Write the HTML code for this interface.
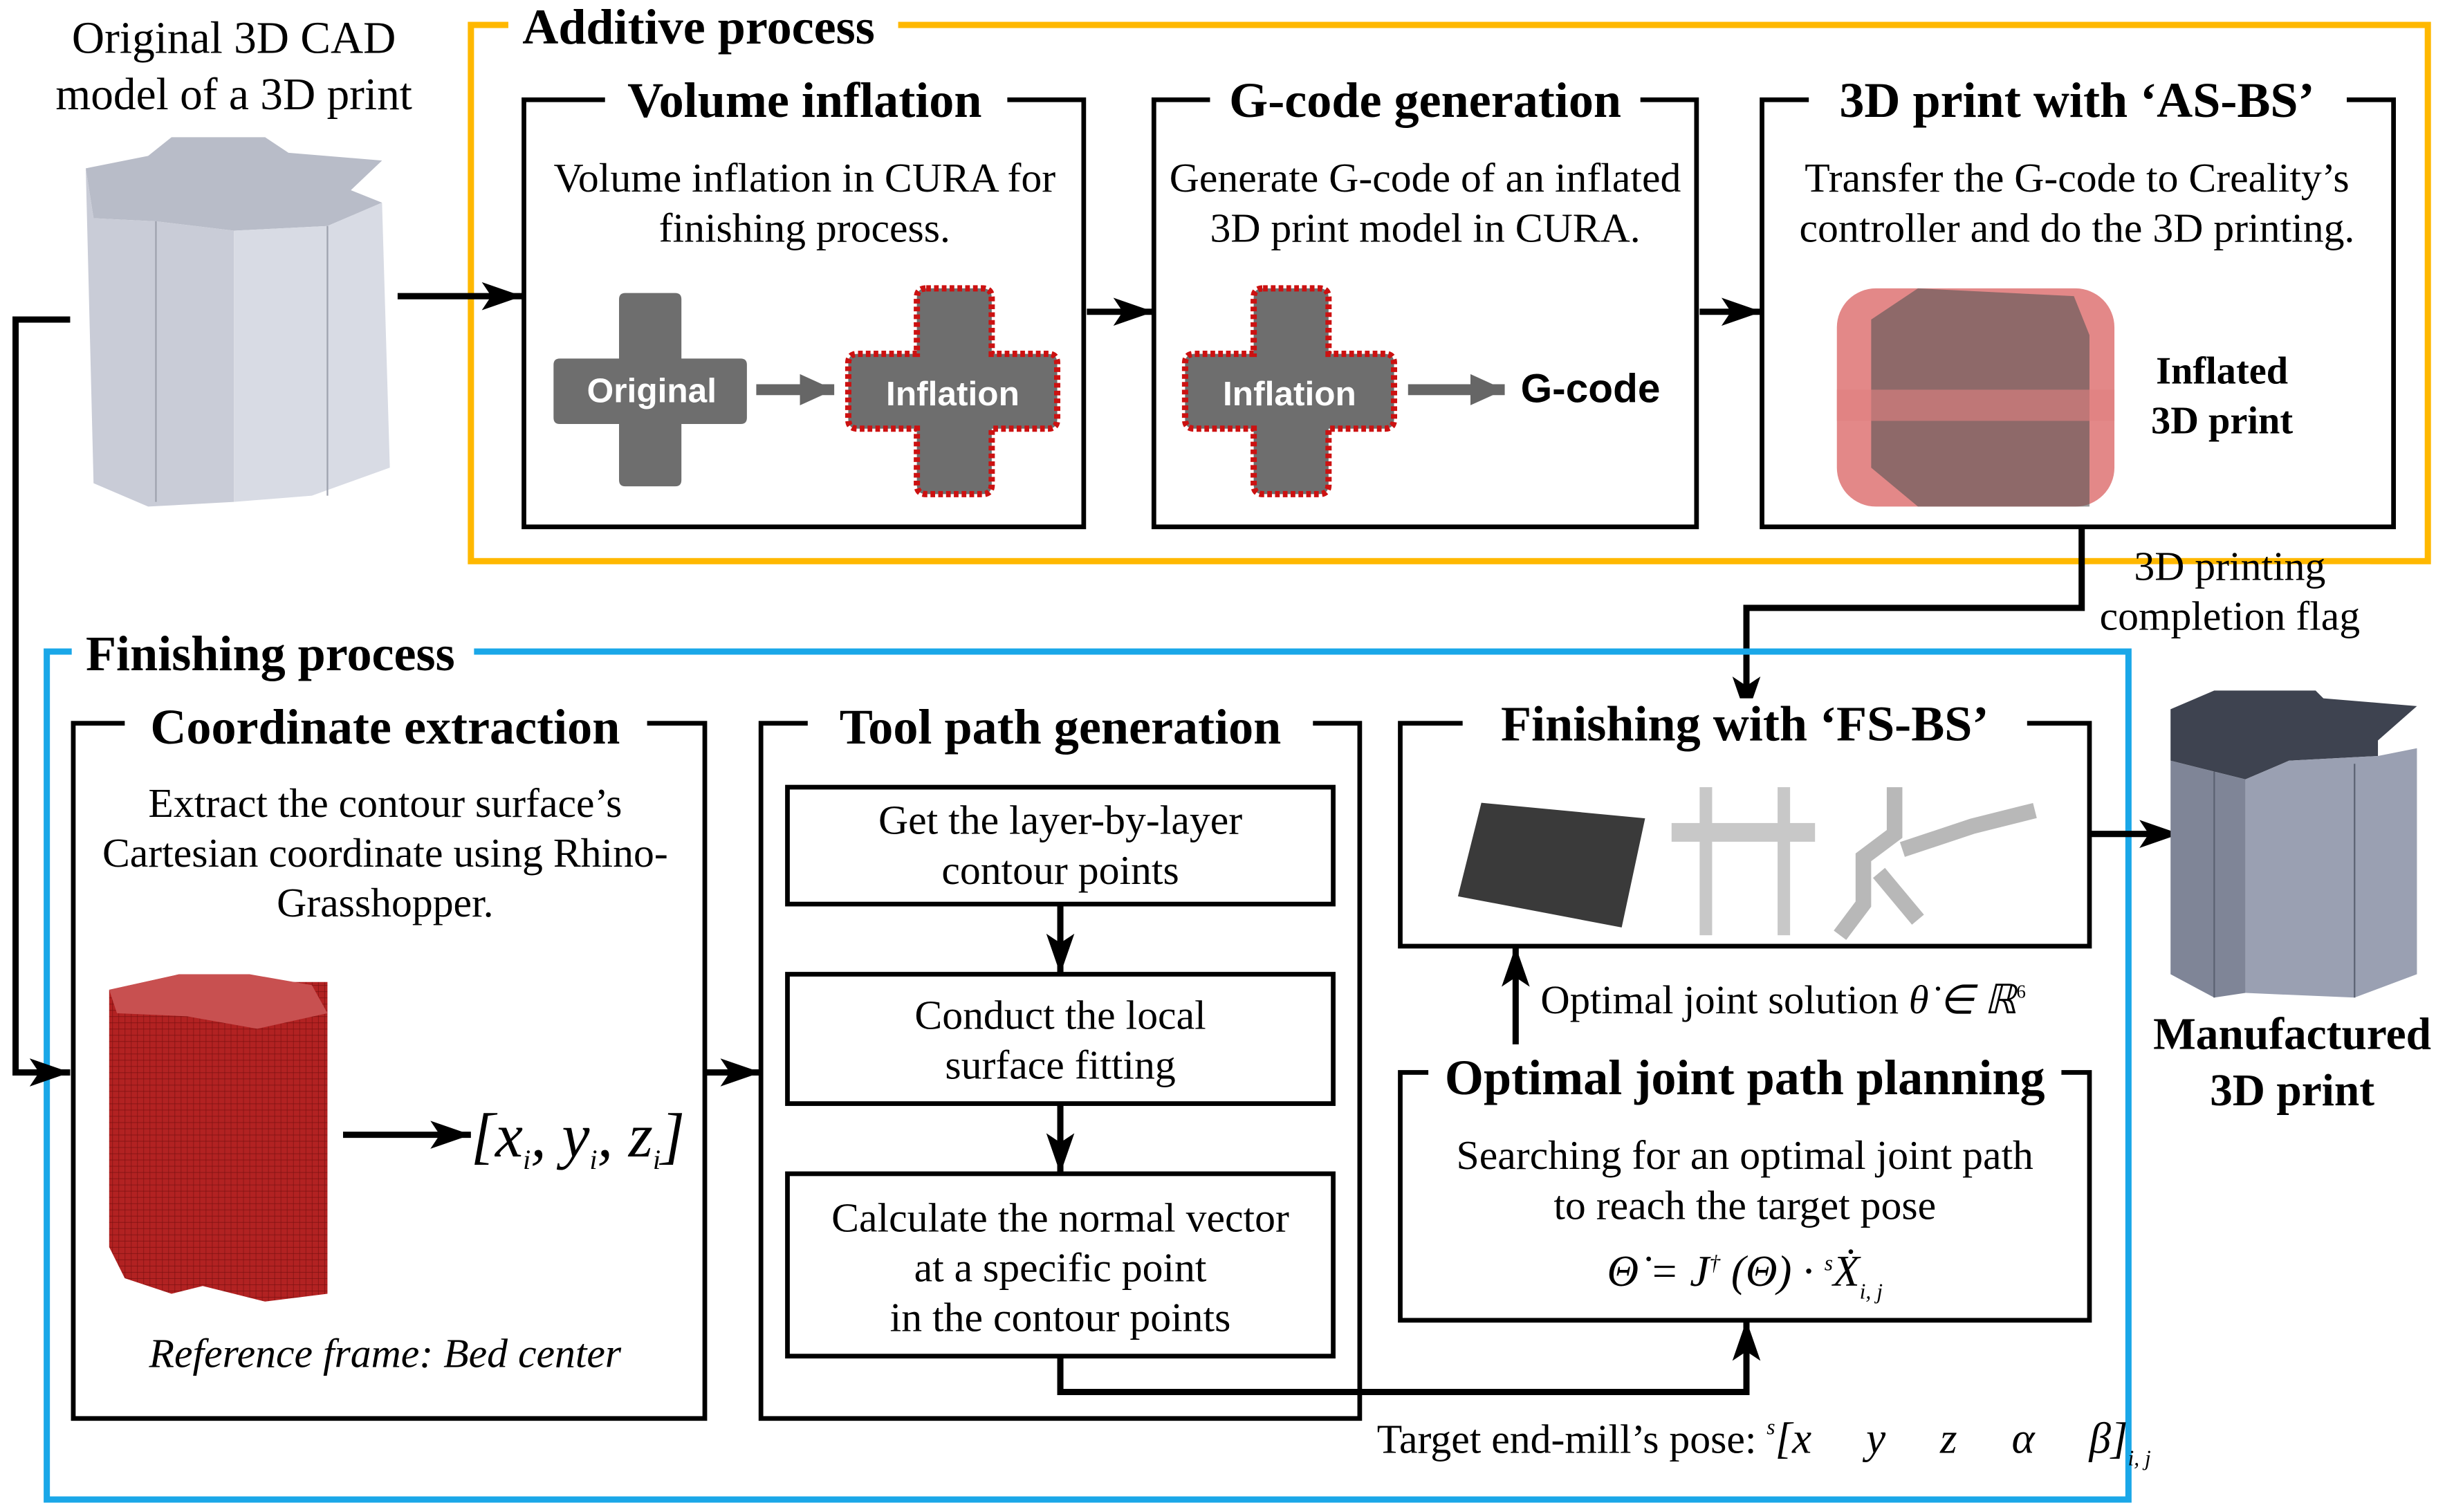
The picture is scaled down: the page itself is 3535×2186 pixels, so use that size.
<!DOCTYPE html>
<html><head><meta charset="utf-8"><style>
html,body{margin:0;padding:0;background:#fff;}
svg{display:block;}
text{font-family:"Liberation Serif",serif;fill:#000;}
.t{font-weight:bold;font-size:32px;text-anchor:middle;}
.b{font-size:26.5px;text-anchor:middle;}
.bx{fill:#fff;stroke:#000;stroke-width:3;}
.ln{fill:none;stroke:#000;stroke-width:4;}
.g{font-family:"Liberation Sans",sans-serif;font-weight:bold;fill:#fff;font-size:22px;text-anchor:middle;}
</style></head><body>
<svg width="3535" height="2186" viewBox="0 0 1568 970" preserveAspectRatio="none" xmlns="http://www.w3.org/2000/svg">
<defs>
<marker id="A" markerWidth="26" markerHeight="18" refX="26" refY="9" orient="auto" markerUnits="userSpaceOnUse"><path d="M0,0 L26,9 L0,18 L6,9z" fill="#000"/></marker>
<marker id="G" markerWidth="22" markerHeight="20" refX="22" refY="10" orient="auto" markerUnits="userSpaceOnUse"><path d="M0,0 L22,10 L0,20z" fill="#666"/></marker>
<pattern id="mesh" width="4" height="4" patternUnits="userSpaceOnUse"><rect width="4" height="4" fill="#b22222"/><path d="M0,0H4M0,0V4" stroke="#7a1010" stroke-width="0.6"/></pattern>
</defs>

<!-- CAD model -->
<text x="150" y="34" style="font-size:29px;text-anchor:middle">Original 3D CAD</text>
<text x="150" y="70" style="font-size:29px;text-anchor:middle">model of a 3D print</text>
<polygon points="55,108 95,100 110,88 170,88 185,98 245,103 225,122 245,130 210,145 150,148 100,142 60,140" fill="#b8bcc8"/>
<polygon points="55,108 60,140 100,142 150,148 150,322 95,325 60,310" fill="#c9ccd7"/>
<polygon points="150,148 210,145 245,130 250,300 200,318 150,322" fill="#d8dbe4"/>
<path d="M100,142V322M210,145V318" stroke="#9ea2ae" stroke-width="1"/>

<!-- Additive process -->
<rect x="302" y="16" width="1255" height="344" fill="none" stroke="#FFB800" stroke-width="4"/>
<rect x="326" y="0" width="250" height="30" fill="#fff"/>
<text x="335" y="28" style="font-weight:bold;font-size:32px">Additive process</text>
<line x1="255" y1="190" x2="335" y2="190" class="ln" marker-end="url(#A)"/>

<rect x="336" y="64" width="359" height="274" class="bx"/>
<rect x="388" y="48" width="258" height="30" fill="#fff"/>
<text x="516" y="75" class="t">Volume inflation</text>
<text x="516" y="123" class="b">Volume inflation in CURA for</text>
<text x="516" y="155" class="b">finishing process.</text>
<path d="M401,188h32q4,0 4,4v38h38q4,0 4,4v34q0,4 -4,4h-38v36q0,4 -4,4h-32q-4,0 -4,-4v-36h-38q-4,0 -4,-4v-34q0,-4 4,-4h38v-38q0,-4 4,-4z" fill="#6e6e6e"/>
<text x="418" y="258" class="g">Original</text>
<line x1="485" y1="250" x2="535" y2="250" stroke="#666" stroke-width="7" marker-end="url(#G)"/>
<path d="M594,185h36q6,0 6,6v36h36q6,0 6,6v36q0,6 -6,6h-36v36q0,6 -6,6h-36q-6,0 -6,-6v-36h-38q-6,0 -6,-6v-36q0,-6 6,-6h38v-36q0,-6 6,-6z" fill="#6e6e6e" stroke="#cc1111" stroke-width="4" stroke-dasharray="3,2"/>
<text x="611" y="260" class="g">Inflation</text>

<line x1="697" y1="200" x2="740" y2="200" class="ln" stroke-width="6" marker-end="url(#A)"/>

<rect x="740" y="64" width="348" height="274" class="bx"/>
<rect x="776" y="48" width="276" height="30" fill="#fff"/>
<text x="914" y="75" class="t">G-code generation</text>
<text x="914" y="123" class="b">Generate G-code of an inflated</text>
<text x="914" y="155" class="b">3D print model in CURA.</text>
<path d="M810,185h36q6,0 6,6v36h36q6,0 6,6v36q0,6 -6,6h-36v36q0,6 -6,6h-36q-6,0 -6,-6v-36h-38q-6,0 -6,-6v-36q0,-6 6,-6h38v-36q0,-6 6,-6z" fill="#6e6e6e" stroke="#cc1111" stroke-width="4" stroke-dasharray="3,2"/>
<text x="827" y="260" class="g">Inflation</text>
<line x1="903" y1="250" x2="965" y2="250" stroke="#666" stroke-width="7" marker-end="url(#G)"/>
<text x="1020" y="258" style="font-family:'Liberation Sans',sans-serif;font-weight:bold;font-size:26px;text-anchor:middle">G-code</text>

<line x1="1090" y1="200" x2="1130" y2="200" class="ln" stroke-width="6" marker-end="url(#A)"/>

<rect x="1130" y="64" width="405" height="274" class="bx"/>
<rect x="1160" y="48" width="345" height="30" fill="#fff"/>
<text x="1332" y="75" class="t">3D print with ‘AS-BS’</text>
<text x="1332" y="123" class="b">Transfer the G-code to Creality’s</text>
<text x="1332" y="155" class="b">controller and do the 3D printing.</text>
<rect x="1178" y="185" width="178" height="140" rx="25" fill="#d96060" opacity="0.75"/>
<polygon points="1200,205 1230,185 1330,190 1340,215 1340,325 1230,325 1200,300" fill="#555" opacity="0.6"/>
<rect x="1178" y="250" width="178" height="20" fill="#e08080" opacity="0.6"/>
<text x="1425" y="246" style="font-weight:bold;font-size:25px;text-anchor:middle">Inflated</text>
<text x="1425" y="278" style="font-weight:bold;font-size:25px;text-anchor:middle">3D print</text>

<rect x="1340" y="362" width="180" height="45" fill="#fff"/>
<text x="1430" y="372" class="b">3D printing</text>
<text x="1430" y="404" class="b">completion flag</text>
<polyline points="1335,338 1335,390 1120,390 1120,460" class="ln" marker-end="url(#A)"/>

<!-- Finishing process -->
<rect x="30" y="418" width="1335" height="544" fill="none" stroke="#1AA7E8" stroke-width="4"/>
<rect x="46" y="402" width="258" height="30" fill="#fff"/>
<text x="55" y="430" style="font-weight:bold;font-size:32px">Finishing process</text>
<polyline points="45,205 10,205 10,688 45,688" class="ln" marker-end="url(#A)"/>

<rect x="47" y="464" width="405" height="446" class="bx"/>
<rect x="80" y="448" width="335" height="30" fill="#fff"/>
<text x="247" y="477" class="t">Coordinate extraction</text>
<text x="247" y="524" class="b">Extract the contour surface’s</text>
<text x="247" y="556" class="b">Cartesian coordinate using Rhino-</text>
<text x="247" y="588" class="b">Grasshopper.</text>
<path d="M70,635 L115,625 L160,625 L165,630 L210,630 L210,830 L170,835 L150,830 L130,825 L110,830 L80,820 L70,800z" fill="url(#mesh)"/>
<polygon points="70,635 115,625 160,625 200,632 210,650 165,660 120,652 75,650" fill="#c85050"/>
<line x1="220" y1="728" x2="302" y2="728" class="ln" marker-end="url(#A)"/>
<text x="302" y="742" style="font-size:40px;font-style:italic">[<tspan>x</tspan><tspan font-size="18" dy="8">i</tspan><tspan dy="-8">, y</tspan><tspan font-size="18" dy="8">i</tspan><tspan dy="-8">, z</tspan><tspan font-size="18" dy="8">i</tspan><tspan dy="-8">]</tspan></text>
<text x="247" y="877" class="b" font-style="italic">Reference frame: Bed center</text>

<line x1="452" y1="688" x2="488" y2="688" class="ln" stroke-width="6" marker-end="url(#A)"/>

<rect x="488" y="464" width="384" height="446" class="bx"/>
<rect x="518" y="448" width="324" height="30" fill="#fff"/>
<text x="680" y="477" class="t">Tool path generation</text>
<rect x="505" y="505" width="350" height="75" class="bx"/>
<text x="680" y="535" class="b">Get the layer-by-layer</text>
<text x="680" y="567" class="b">contour points</text>
<line x1="680" y1="580" x2="680" y2="625" class="ln" stroke-width="3" marker-end="url(#A)"/>
<rect x="505" y="625" width="350" height="83" class="bx"/>
<text x="680" y="660" class="b">Conduct the local</text>
<text x="680" y="692" class="b">surface fitting</text>
<line x1="680" y1="708" x2="680" y2="753" class="ln" stroke-width="3" marker-end="url(#A)"/>
<rect x="505" y="753" width="350" height="117" class="bx"/>
<text x="680" y="790" class="b">Calculate the normal vector</text>
<text x="680" y="822" class="b">at a specific point</text>
<text x="680" y="854" class="b">in the contour points</text>
<polyline points="680,870 680,893 1120,893 1120,847" class="ln" marker-end="url(#A)"/>
<text x="883" y="932" style="font-size:26.5px">Target end-mill’s pose:</text>
<text x="1133" y="932" style="font-size:28px;font-style:italic" xml:space="preserve"><tspan font-size="14" dy="-12">s</tspan><tspan dy="12">[x     y     z     α     β]</tspan><tspan font-size="14" dy="8">i, j</tspan></text>

<rect x="898" y="464" width="442" height="143" class="bx"/>
<rect x="938" y="448" width="362" height="30" fill="#fff"/>
<text x="1119" y="475" class="t">Finishing with ‘FS-BS’</text>
<polygon points="950,515 1055,525 1040,595 935,575" fill="#3a3a3a"/>
<rect x="1072" y="528" width="92" height="12" fill="#c8c8c8"/>
<rect x="1090" y="505" width="8" height="95" fill="#c8c8c8"/>
<rect x="1140" y="505" width="8" height="95" fill="#c8c8c8"/>
<path d="M1215,505v30l-20,15v30l-15,20M1220,545l45,-15l40,-10M1205,560l25,30" stroke="#b8b8b8" stroke-width="10" fill="none"/>
<line x1="972" y1="670" x2="972" y2="607" class="ln" marker-end="url(#A)"/>
<text x="988" y="650" style="font-size:26px">Optimal joint solution  <tspan font-style="italic">θ̇ ∈ ℝ</tspan><tspan font-size="12" dy="-10">6</tspan></text>

<rect x="898" y="688" width="442" height="159" class="bx"/>
<rect x="916" y="672" width="406" height="30" fill="#fff"/>
<text x="1119" y="702" class="t">Optimal joint path planning</text>
<text x="1119" y="750" class="b">Searching for an optimal joint path</text>
<text x="1119" y="782" class="b">to reach the target pose</text>
<text x="1119" y="825" style="font-size:28px;text-anchor:middle;font-style:italic">Θ̇ = J<tspan font-size="14" dy="-10">†</tspan><tspan dy="10"> (Θ) · </tspan><tspan font-size="14" dy="-10">s</tspan><tspan dy="10">Ẋ</tspan><tspan font-size="14" dy="8">i, j</tspan></text>

<line x1="1340" y1="535" x2="1398" y2="535" class="ln" marker-end="url(#A)"/>

<!-- Manufactured -->
<polygon points="1392,455 1420,443 1485,443 1490,448 1550,453 1525,475 1525,485 1468,488 1440,500 1392,488" fill="#3e4350"/>
<polygon points="1392,488 1392,625 1420,640 1440,637 1440,500" fill="#7f8597"/>
<polygon points="1440,500 1468,488 1525,485 1550,480 1550,625 1510,640 1440,637" fill="#9aa0b2"/>
<path d="M1420,495V640M1510,490V640" stroke="#5c6273" stroke-width="1"/>
<text x="1470" y="673" style="font-weight:bold;font-size:29px;text-anchor:middle">Manufactured</text>
<text x="1470" y="709" style="font-weight:bold;font-size:29px;text-anchor:middle">3D print</text>
</svg>
</body></html>
